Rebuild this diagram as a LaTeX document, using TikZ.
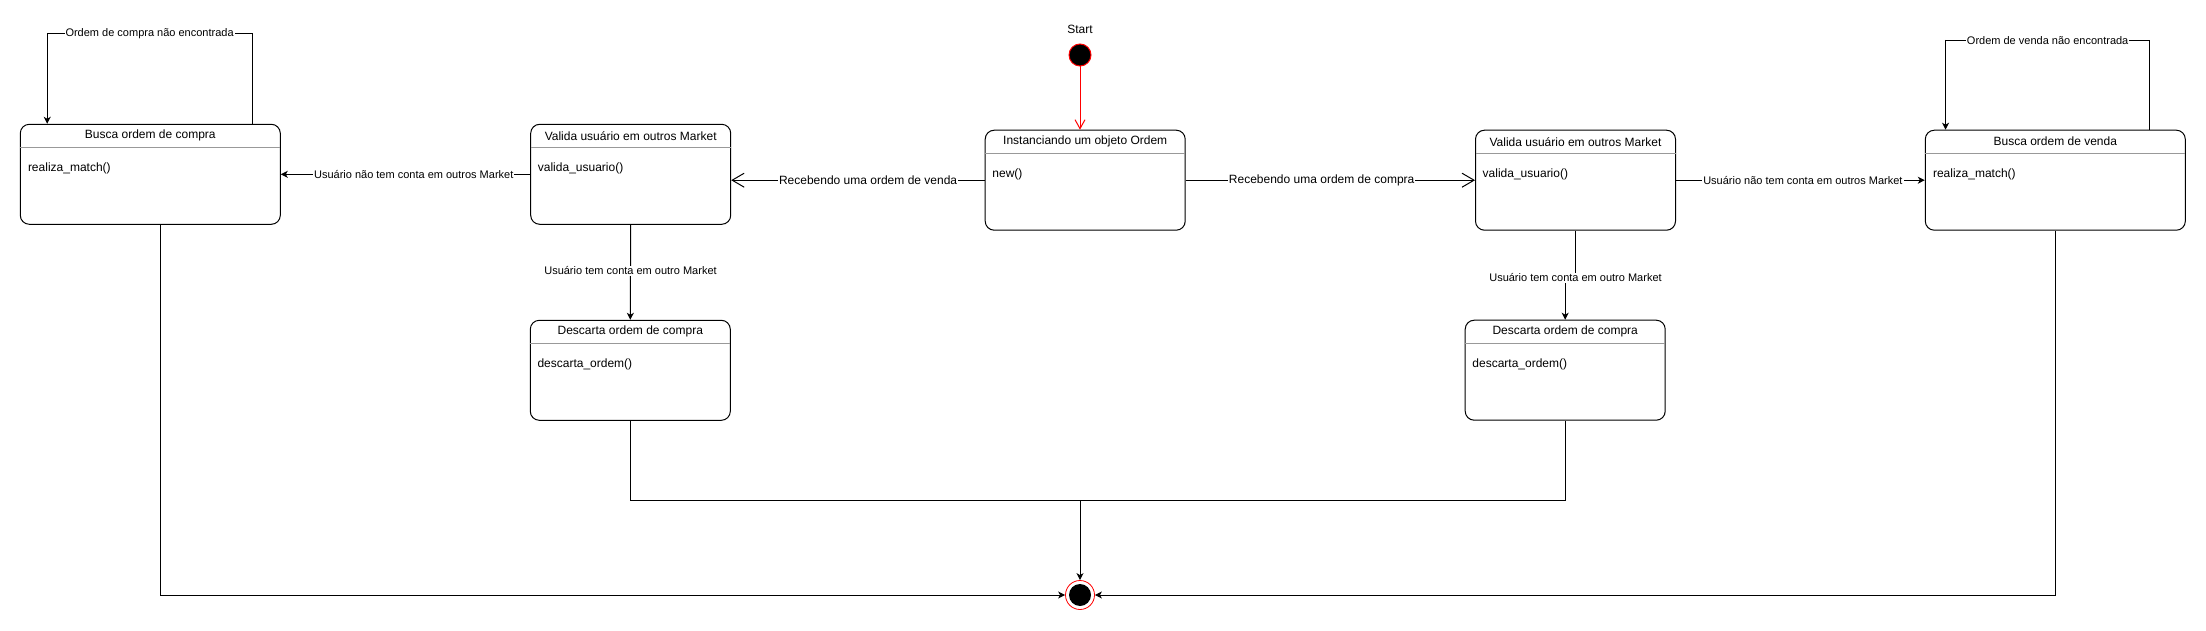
\documentclass[tikz,border=0pt]{standalone}
\usepackage{fontspec}
\setmainfont{Liberation Sans}
\usetikzlibrary{arrows.meta,calc}
\begin{document}
\begin{tikzpicture}[x=1pt,y=-1pt,
  stbox/.style={draw=black,line width=1pt,rounded corners=9pt,minimum height=100pt,inner sep=0pt,fill=white},
  ttl/.style={font=\fontsize{12}{14}\selectfont,inner sep=0pt},
  mth/.style={font=\fontsize{12}{14}\selectfont,inner sep=0pt,anchor=west},
  sepline/.style={draw=black!40,line width=1pt},
  edge/.style={draw=black,line width=1pt,-{Stealth[length=7pt,width=7pt,inset=2pt]}},
  plain/.style={draw=black,line width=1pt},
  openedge/.style={draw=black,line width=1pt,-{Straight Barb[length=12pt,width=14pt]}},
  elabel/.style={font=\fontsize{11}{13}\selectfont,fill=white,inner sep=1pt},
  elabelb/.style={font=\fontsize{12}{14}\selectfont,fill=white,inner sep=1pt},
]
\useasboundingbox (0,0) rectangle (2206,631);

% state boxes
\node[stbox,minimum width=260pt] (bc) at (150.3,174.3) {};
\node[stbox,minimum width=200pt] (vl) at (630.7,174.3) {};
\node[stbox,minimum width=200pt] (io) at (1085.2,180.2) {};
\node[stbox,minimum width=200pt] (vr) at (1575.5,180.2) {};
\node[stbox,minimum width=260pt] (bv) at (2055.3,180.2) {};
\node[stbox,minimum width=200pt] (dl) at (630.3,370.3) {};
\node[stbox,minimum width=200pt] (dr) at (1565.2,370.2) {};

% header separators
\foreach \b in {bc,vl,io,vr,bv,dl,dr}{
  \draw[sepline] ($(\b.north west)+(0.5,24)$) -- ($(\b.north east)+(-0.5,24)$);
}

% titles
\node[ttl] (bct) at ($(bc.north)+(0,12)$) {Busca ordem de compra};
\node[ttl] (vlt) at ($(vl.north)+(0,12)$) {Valida usuário em outros Market};
\node[ttl] (iot) at ($(io.north)+(0,12)$) {Instanciando um objeto Ordem};
\node[ttl] (vrt) at ($(vr.north)+(0,12)$) {Valida usuário em outros Market};
\node[ttl] (bvt) at ($(bv.north)+(0,12)$) {Busca ordem de venda};
\node[ttl] (dlt) at ($(dl.north)+(0,12)$) {Descarta ordem de compra};
\node[ttl] (drt) at ($(dr.north)+(0,12)$) {Descarta ordem de compra};

% methods
\node[mth] (bcm) at ($(bc.north west)+(8,45)$) {realiza\_match()};
\node[mth] (vlm) at ($(vl.north west)+(7.5,45)$) {valida\_usuario()};
\node[mth] (iom) at ($(io.north west)+(7.5,45)$) {new()};
\node[mth] (vrm) at ($(vr.north west)+(7.5,45)$) {valida\_usuario()};
\node[mth] (bvm) at ($(bv.north west)+(8,45)$) {realiza\_match()};
\node[mth] (dlm) at ($(dl.north west)+(7.5,45)$) {descarta\_ordem()};
\node[mth] (drm) at ($(dr.north west)+(7.5,45)$) {descarta\_ordem()};

% start and end
\node[ttl] (stl) at (1080,29.3) {Start};
\node[circle,fill=black,draw=red,line width=1pt,minimum size=22pt,inner sep=0pt] (st) at (1080,55) {};
\node[circle,draw=red,line width=0.8pt,minimum size=29pt,inner sep=0pt] (en) at (1080,595) {};
\node[circle,fill=black,minimum size=22pt,inner sep=0pt] (enc) at (en.center) {};

% start edge
\draw[draw=red,line width=1pt,-{Straight Barb[length=9pt,width=10pt]}] (st) -- (st |- io.north);

% receiving orders
\draw[openedge] (io.west) -- node[elabelb,pos=0.46] (lrv) {Recebendo uma ordem de venda} (io.west -| vl.east);
\draw[openedge] (io.east) -- node[elabelb,pos=0.47] (lrc) {Recebendo uma ordem de compra} (vr.west);

% user has no account elsewhere
\draw[edge] (vl.west) -- node[elabel,pos=0.467] (lnl) {Usuário não tem conta em outros Market} (bc.east);
\draw[edge] (vr.east) -- node[elabel,pos=0.51] (lnr) {Usuário não tem conta em outros Market} (bv.west);

% user has account elsewhere
\draw[edge] (vl.south) -- node[elabel,pos=0.486] (ltl) {Usuário tem conta em outro Market} (dl.north);
\draw[edge] (vr.south) -- ++(0,47) -| (dr.north);
\node[elabel] (ltr) at ($(vr.south)+(0,47)$) {Usuário tem conta em outro Market};

% self loops
\draw[plain] ($(bc.north west)+(232.2,0)$) -- ($(bc.north west)+(232.2,-90)$) -- node[elabel] (lsc) {Ordem de compra não encontrada} ($(bc.north west)+(27.4,-90)$);
\draw[edge] ($(bc.north west)+(27.4,-90.5)$) -- ($(bc.north west)+(27.4,0)$);
\draw[plain] ($(bv.north west)+(225,0)$) -- ($(bv.north west)+(225,-89.3)$) -- node[elabel] (lsv) {Ordem de venda não encontrada} ($(bv.north west)+(20.7,-89.3)$);
\draw[edge] ($(bv.north west)+(20.7,-89.8)$) -- ($(bv.north west)+(20.7,0)$);

% to the end state
\coordinate (jn) at (1080,500.3);
\draw[edge] ($(bc.south west)+(140.2,0)$) |- (en.west);
\draw[edge] (bv.south) |- (en.east);
\draw[plain] (dl.south) |- (jn);
\draw[plain] (dr.south) |- (jn);
\draw[edge] (jn) -- (en.north);
\end{tikzpicture}
\end{document}
